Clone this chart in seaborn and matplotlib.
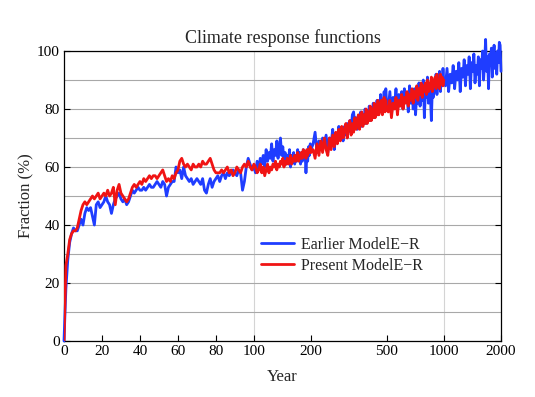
import numpy as np
import pandas as pd
import matplotlib
matplotlib.use('Agg')
import matplotlib.pyplot as plt
from matplotlib.ticker import MultipleLocator, NullLocator
import seaborn as sns

# ---- data ----
years_0_100 = np.arange(0, 101)
years_100_200 = np.arange(102, 201, 2)
years_200_500 = np.arange(205, 501, 5)
years_500_1000 = np.arange(510, 1001, 10)
years_1000_2000 = np.arange(1020, 2001, 20)

red_0_100 = [
    0, 26, 30, 35, 37, 38, 38, 39, 42, 45,
    47, 48, 47, 48, 49, 50, 49, 50, 51, 49,
    50, 51, 50, 52, 50, 51, 53, 47, 52, 54,
    51, 50, 49, 48, 49, 51, 53, 54, 53, 54,
    55, 54, 56, 55, 56, 57, 56, 57, 57, 56,
    57, 58, 59, 57, 55, 56, 55, 57, 56, 58,
    59, 62, 63, 61, 60, 61, 60, 59, 61, 60,
    60, 61, 60, 62, 61, 61, 62, 63, 61, 59,
    58, 58, 58, 59, 58, 59, 60, 58, 59, 57,
    58, 60, 59, 58, 60, 61, 60, 62, 60, 59,
    61,
]
red_100_200 = [
    60, 58, 59, 61, 58, 60, 57, 59, 61, 58,
    60, 59, 61, 60, 62, 59, 61, 60, 62, 61,
    63, 60, 62, 61, 63, 61, 62, 64, 61, 63,
    62, 64, 62, 63, 65, 62, 64, 63, 65, 63,
    66, 64, 65, 63, 66, 64, 66, 65, 67, 65,
]
red_200_500 = [
    66, 63, 68, 64, 69, 65, 70, 66, 64, 70,
    66, 71, 67, 72, 68, 73, 69, 74, 70, 73,
    75, 70, 74, 76, 71, 75, 72, 77, 73, 76,
    78, 73, 77, 79, 74, 78, 75, 80, 75, 79,
    76, 81, 76, 80, 77, 82, 77, 81, 78, 83,
    78, 82, 79, 83, 78, 82, 84, 79, 83, 80,
]
red_500_1000 = [
    79, 83, 77, 82, 80, 84, 78, 83, 81, 85,
    80, 84, 82, 86, 81, 85, 83, 87, 82, 86,
    84, 88, 83, 87, 85, 89, 84, 88, 86, 89,
    85, 90, 86, 89, 87, 91, 86, 90, 88, 91,
    87, 92, 88, 90, 87, 92, 89, 91, 88, 90,
]

blue_0_100 = [
    0, 18, 28, 34, 37, 39, 38, 38, 40, 42,
    40, 44, 46, 45, 46, 43, 40, 47, 48, 46,
    47, 48, 50, 48, 47, 44, 47, 49, 50, 51,
    49, 48, 49, 47, 48, 50, 52, 51, 52, 53,
    52, 52, 53, 52, 53, 54, 53, 53, 54, 55,
    54, 53, 55, 54, 50, 53, 54, 55, 55, 60,
    58, 59, 56, 60, 57, 56, 55, 56, 54, 55,
    56, 55, 54, 56, 52, 51, 54, 56, 53, 55,
    56, 57, 55, 57, 58, 56, 58, 57, 58, 59,
    58, 57, 59, 58, 52, 55, 60, 63, 61, 59,
    60,
]
blue_100_200 = [
    58, 62, 59, 63, 61, 64, 60, 66, 62, 65,
    63, 68, 62, 66, 64, 69, 63, 67, 70, 64,
    67, 62, 65, 61, 64, 62, 66, 60, 64, 62,
    65, 61, 64, 62, 66, 63, 65, 61, 64, 62,
    66, 63, 65, 58, 64, 62, 67, 64, 68, 66,
]
blue_200_500 = [
    68, 72, 65, 69, 66, 70, 67, 71, 65, 70,
    68, 73, 66, 71, 69, 74, 70, 72, 69, 74,
    71, 75, 72, 76, 73, 78, 79, 74, 77, 73,
    77, 75, 79, 74, 78, 76, 80, 75, 79, 77,
    81, 76, 80, 78, 82, 77, 81, 79, 83, 78,
    82, 80, 85, 79, 83, 81, 86, 80, 87, 82,
]
blue_500_1000 = [
    80, 86, 78, 84, 81, 87, 79, 85, 82, 86,
    80, 87, 83, 85, 79, 88, 82, 86, 80, 87,
    78, 85, 82, 89, 81, 87, 83, 90, 77, 86,
    84, 91, 82, 88, 85, 76, 87, 84, 90, 86,
    92, 85, 89, 87, 93, 86, 91, 88, 94, 89,
]
blue_1000_2000 = [
    88, 94, 86, 92, 89, 95, 87, 93, 90, 96,
    86, 94, 91, 97, 88, 95, 92, 98, 87, 96,
    93, 99, 89, 95, 92, 98, 88, 97, 94, 100,
    90, 96, 104, 93, 98, 87, 99, 95, 101, 91,
    97, 102, 94, 99, 92, 100, 96, 103, 102, 93,
]

labels = ["Earlier ModelE\u2212R", "Present ModelE\u2212R"]
x_ticks = [0, 20, 40, 60, 80, 100, 200, 500, 1000, 2000]
grid_years = [100, 1000]

blue = pd.DataFrame({
    'year': np.concatenate([years_0_100, years_100_200, years_200_500,
                            years_500_1000, years_1000_2000]),
    'fraction': np.concatenate([blue_0_100, blue_100_200, blue_200_500,
                                blue_500_1000, blue_1000_2000]),
})
red = pd.DataFrame({
    'year': np.concatenate([years_0_100, years_100_200, years_200_500,
                            years_500_1000]),
    'fraction': np.concatenate([red_0_100, red_100_200, red_200_500,
                                red_500_1000]),
})


# linear up to 100 years, log10 beyond
def fwd(x):
    x = np.asarray(x, dtype=float)
    return np.where(x <= 100, x / 100, 1 + np.log10(np.maximum(x, 100) / 100))


def inv(u):
    u = np.asarray(u, dtype=float)
    return np.where(u <= 1, u * 100, 100 * 10 ** (np.maximum(u, 1) - 1))


sns.set_theme(style='white')
plt.rcParams['font.family'] = ['Liberation Serif', 'DejaVu Serif']

fig = plt.figure(figsize=(5.35, 3.97), dpi=100)
ax = fig.add_axes([0.1196, 0.141, 0.8168, 0.7305])
ax.set_xscale('function', functions=(fwd, inv))

sns.lineplot(data=blue, x='year', y='fraction', ax=ax, color='#1f3dff',
             lw=2.0, estimator=None, label=labels[0], clip_on=False, zorder=3)
sns.lineplot(data=red, x='year', y='fraction', ax=ax, color='#f01414',
             lw=2.0, estimator=None, label=labels[1], zorder=4)

ax.set_xlim(0, 2000)
ax.set_ylim(0, 100)
ax.set_xticks(x_ticks)
ax.set_xticklabels([str(t) for t in x_ticks])
ax.xaxis.set_minor_locator(NullLocator())
ax.yaxis.set_major_locator(MultipleLocator(20))
ax.yaxis.set_minor_locator(MultipleLocator(10))

ax.grid(axis='y', which='both', color='#a8a8a8', lw=0.8)
ax.grid(axis='x', visible=False)
for gx in grid_years:
    ax.axvline(gx, color='#d4d4d4', lw=0.8, zorder=0)

ax.tick_params(axis='both', which='major', direction='in', length=4,
               width=0.8, labelsize=11, colors='black',
               left=True, right=True, bottom=True, top=False, pad=3)
ax.tick_params(axis='both', which='minor', length=0)
for sp in ax.spines.values():
    sp.set_color('black')
    sp.set_linewidth(0.9)

ax.set_title('Climate response functions', fontsize=13, pad=6)
ax.set_xlabel('Year', fontsize=12, labelpad=8)
ax.set_ylabel('Fraction (%)', fontsize=12, labelpad=2)

ax.legend(loc='center left', bbox_to_anchor=(0.45, 0.295), frameon=False,
          fontsize=11.5, handlelength=2.1, handletextpad=0.45,
          labelspacing=0.3, borderpad=0, borderaxespad=0)

fig.savefig('out.png', dpi=100)
